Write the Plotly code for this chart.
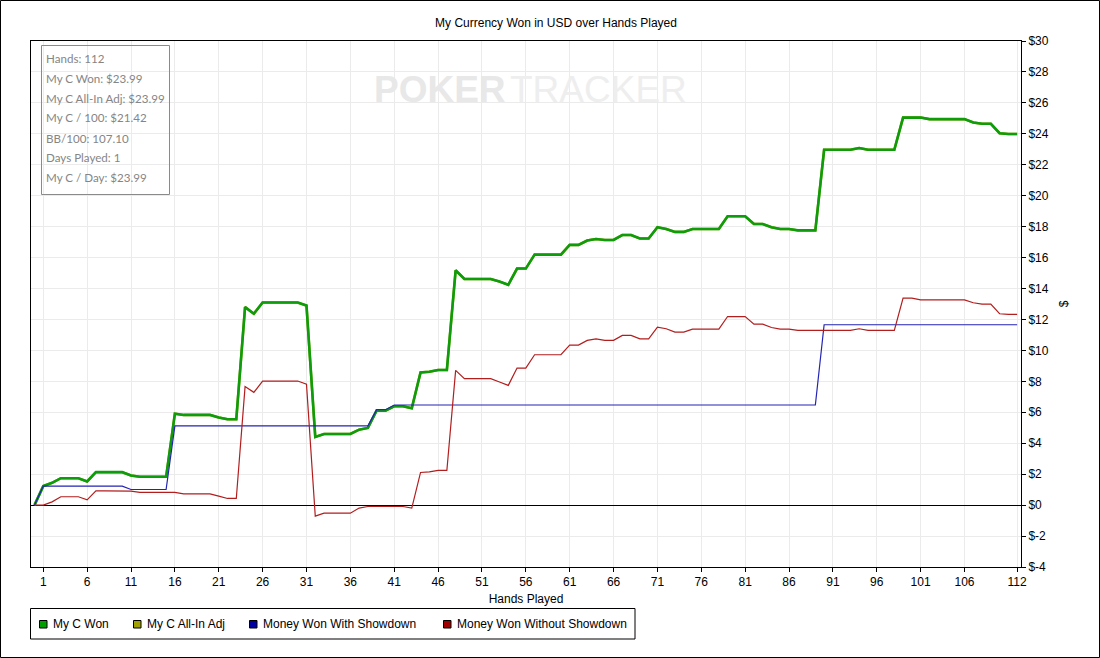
import plotly.graph_objects as go

# hands 0..112 (0 = start of session)
hands = list(range(0, 113))

my_c_won = [
    0, 1.23, 1.44, 1.74, 1.74, 1.74, 1.53, 2.13, 2.13, 2.13,
    2.13, 1.92, 1.83, 1.83, 1.83, 1.83, 5.91, 5.83, 5.83, 5.83,
    5.83, 5.66, 5.55, 5.55, 12.80, 12.37, 13.10, 13.10, 13.10, 13.10,
    13.10, 12.90, 4.41, 4.60, 4.60, 4.60, 4.60, 4.88, 4.99, 6.12,
    6.10, 6.39, 6.39, 6.26, 8.58, 8.62, 8.73, 8.73, 15.18, 14.62,
    14.62, 14.62, 14.62, 14.45, 14.24, 15.29, 15.29, 16.19, 16.19, 16.19,
    16.19, 16.82, 16.82, 17.10, 17.20, 17.14, 17.14, 17.46, 17.46, 17.23,
    17.23, 17.96, 17.85, 17.66, 17.66, 17.85, 17.85, 17.85, 17.85, 18.67,
    18.67, 18.67, 18.17, 18.17, 17.96, 17.85, 17.85, 17.76, 17.76, 17.76,
    22.97, 22.97, 22.97, 22.97, 23.08, 22.97, 22.97, 22.97, 22.97, 25.05,
    25.05, 25.05, 24.95, 24.95, 24.95, 24.95, 24.95, 24.73, 24.65, 24.65,
    24.04, 23.99, 23.99,
]

# all-in adjusted equals actual winnings for this session ($23.99 both)
all_in_adj = my_c_won

with_showdown = [
    0, 1.23, 1.23, 1.23, 1.23, 1.23, 1.23, 1.23, 1.23, 1.23,
    1.23, 1.01, 1.01, 1.01, 1.01, 1.01, 5.12, 5.12, 5.12, 5.12,
    5.12, 5.12, 5.12, 5.12, 5.12, 5.12, 5.12, 5.12, 5.12, 5.12,
    5.12, 5.12, 5.12, 5.12, 5.12, 5.12, 5.12, 5.12, 5.12, 6.17,
    6.17, 6.47, 6.47, 6.47, 6.47, 6.47, 6.47, 6.47, 6.47, 6.47,
    6.47, 6.47, 6.47, 6.47, 6.47, 6.47, 6.47, 6.47, 6.47, 6.47,
    6.47, 6.47, 6.47, 6.47, 6.47, 6.47, 6.47, 6.47, 6.47, 6.47,
    6.47, 6.47, 6.47, 6.47, 6.47, 6.47, 6.47, 6.47, 6.47, 6.47,
    6.47, 6.47, 6.47, 6.47, 6.47, 6.47, 6.47, 6.47, 6.47, 6.47,
    11.66, 11.66, 11.66, 11.66, 11.66, 11.66, 11.66, 11.66, 11.66, 11.66,
    11.66, 11.66, 11.66, 11.66, 11.66, 11.66, 11.66, 11.66, 11.66, 11.66,
    11.66, 11.66, 11.66,
]

without_showdown = [
    0, 0, 0.21, 0.54, 0.54, 0.54, 0.34, 0.92, 0.92, 0.92,
    0.92, 0.90, 0.82, 0.82, 0.82, 0.82, 0.82, 0.73, 0.73, 0.73,
    0.73, 0.58, 0.43, 0.43, 7.66, 7.29, 8.02, 8.02, 8.02, 8.02,
    8.02, 7.81, -0.71, -0.52, -0.52, -0.52, -0.52, -0.19, -0.09, -0.09,
    -0.09, -0.09, -0.09, -0.19, 2.11, 2.15, 2.24, 2.24, 8.71, 8.17,
    8.17, 8.17, 8.17, 7.96, 7.74, 8.86, 8.86, 9.72, 9.72, 9.72,
    9.72, 10.34, 10.34, 10.65, 10.75, 10.65, 10.65, 10.97, 10.97, 10.75,
    10.75, 11.50, 11.40, 11.18, 11.18, 11.38, 11.38, 11.38, 11.38, 12.19,
    12.19, 12.19, 11.70, 11.70, 11.48, 11.38, 11.38, 11.29, 11.29, 11.29,
    11.29, 11.29, 11.29, 11.29, 11.40, 11.29, 11.29, 11.29, 11.29, 13.38,
    13.38, 13.27, 13.27, 13.27, 13.27, 13.27, 13.27, 13.08, 12.99, 12.99,
    12.37, 12.33, 12.33,
]

x_ticks = [1, 6, 11, 16, 21, 26, 31, 36, 41, 46, 51, 56, 61, 66, 71, 76, 81,
           86, 91, 96, 101, 106, 112]
y_ticks = [-4, -2, 0, 2, 4, 6, 8, 10, 12, 14, 16, 18, 20, 22, 24, 26, 28, 30]

stats = [
    "Hands: 112",
    "My C Won: $23.99",
    "My C All-In Adj: $23.99",
    "My C / 100: $21.42",
    "BB/100: 107.10",
    "Days Played: 1",
    "My C / Day: $23.99",
]

legend_names = ["My C Won", "My C All-In Adj", "Money Won With Showdown",
                "Money Won Without Showdown"]
legend_colors = ["#00a000", "#a0a000", "#0000a0", "#a00000"]

W, H = 1100, 658
L, R, T, B = 31, 79, 41, 91
PW, PH = W - L - R, H - T - B


def xp(px):
    return (px - L) / PW


def yp(py):
    return (H - B - py) / PH


FONT = "Liberation Sans"

fig = go.Figure()

# olive drawn first so the (identical) green line sits on top of it
series = [
    ("My C All-In Adj", all_in_adj, "#a0a000", 2.5),
    ("My C Won", my_c_won, "#0c9c0c", 2.6),
    ("Money Won With Showdown", with_showdown, "#2424b4", 1.2),
    ("Money Won Without Showdown", without_showdown, "#b21e1e", 1.2),
]
for name, vals, col, w in series:
    fig.add_trace(go.Scatter(
        x=hands, y=vals, mode='lines', name=name,
        line=dict(color=col, width=w), showlegend=False,
        hovertemplate='Hand %{x}<br>$%{y:.2f}<extra>' + name + '</extra>'
    ))

# stats box
fig.add_shape(type='rect', xref='paper', yref='paper',
              x0=xp(41.5), x1=xp(169.5), y0=yp(45.5), y1=yp(194.5),
              line=dict(color='#8a8a8a', width=1))
for i, s in enumerate(stats):
    fig.add_annotation(x=xp(43.5), y=yp(58 + 20 * i), xref='paper', yref='paper',
                       text=s, showarrow=False, xanchor='left', yanchor='middle',
                       font=dict(family='Lato', size=11.6, color='#858585'))

# watermark
fig.add_annotation(x=xp(508), y=yp(89), xref='paper', yref='paper',
                   text='<b>POKER</b>', showarrow=False, xanchor='right',
                   yanchor='middle',
                   font=dict(family=FONT, size=37, color='#e8e8e8'))
fig.add_annotation(x=xp(508), y=yp(89), xref='paper', yref='paper',
                   text='TRACKER', showarrow=False, xanchor='left',
                   yanchor='middle',
                   font=dict(family=FONT, size=37, color='#eeeeee'))

# legend box in PokerTracker style (square swatch, tight text)
fig.add_shape(type='rect', xref='paper', yref='paper',
              x0=xp(30.5), x1=xp(635), y0=yp(608.5), y1=yp(639),
              line=dict(color='black', width=1), fillcolor='white')
swatch_x = [39.5, 133.5, 249.5, 443.5]
for sx, name, col in zip(swatch_x, legend_names, legend_colors):
    fig.add_shape(type='rect', xref='paper', yref='paper',
                  x0=xp(sx), x1=xp(sx + 7.5), y0=yp(620.5), y1=yp(628),
                  line=dict(color='black', width=1), fillcolor=col)
    fig.add_annotation(x=xp(sx + 11), y=yp(624), xref='paper', yref='paper',
                       text=name, showarrow=False, xanchor='left',
                       yanchor='middle',
                       font=dict(family=FONT, size=12, color='black'))

# outer frame
fig.add_shape(type='rect', xref='paper', yref='paper',
              x0=xp(0.5), x1=xp(W - 0.5), y0=yp(0.5), y1=yp(H - 0.5),
              line=dict(color='black', width=1))

fig.update_layout(
    width=W, height=H,
    margin=dict(l=L, r=R, t=T, b=B),
    paper_bgcolor='white', plot_bgcolor='white',
    font=dict(family=FONT, size=12, color='black'),
    title=dict(text='My Currency Won in USD over Hands Played',
               x=556 / W, xanchor='center', y=1 - 23 / H, yanchor='middle',
               font=dict(family=FONT, size=12, color='black')),
    showlegend=False,
    xaxis=dict(
        range=[-0.4, 112.44], tickmode='array', tickvals=x_ticks,
        showgrid=True, gridcolor='#ebebeb', gridwidth=1,
        showline=True, linecolor='black', linewidth=1, mirror=True,
        ticks='outside', ticklen=4, tickcolor='black', zeroline=False,
        title=dict(text='Hands Played', standoff=6,
                   font=dict(family=FONT, size=12)),
    ),
    yaxis=dict(
        range=[-4, 30], side='right', tickmode='array', tickvals=y_ticks,
        ticktext=['$' + str(v) for v in y_ticks],
        showgrid=True, gridcolor='#ebebeb', gridwidth=1,
        showline=True, linecolor='black', linewidth=1, mirror=True,
        ticks='outside', ticklen=4, tickcolor='black',
        zeroline=True, zerolinecolor='black', zerolinewidth=1,
        title=dict(text='$', standoff=11, font=dict(family=FONT, size=12)),
    ),
)

fig.write_html("out.html", config={'displayModeBar': False},
               post_script="document.body.style.margin='0';")
